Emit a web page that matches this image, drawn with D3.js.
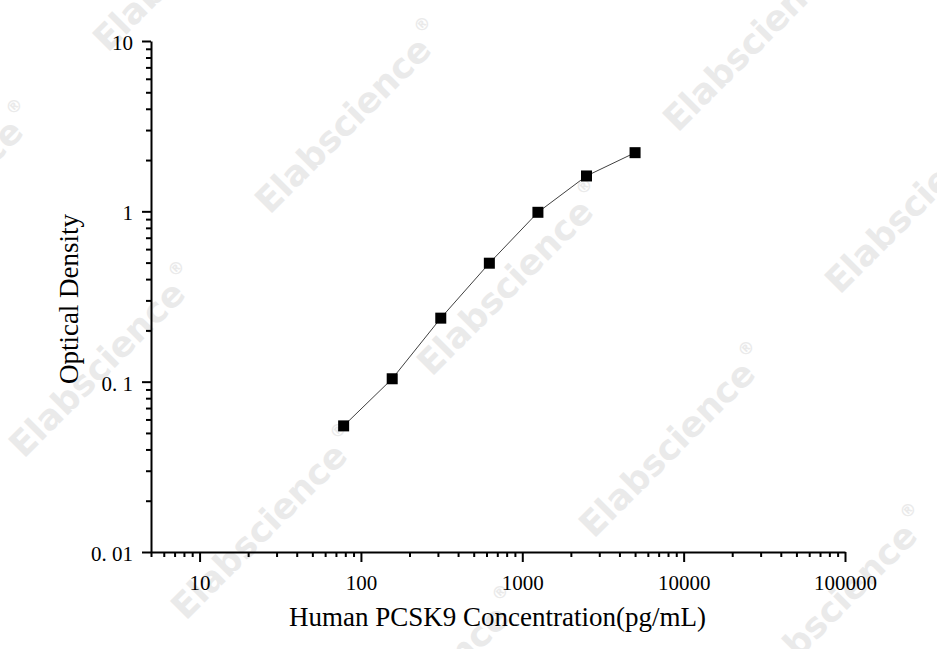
<!DOCTYPE html>
<html>
<head>
<meta charset="utf-8">
<script src="https://cdn.jsdelivr.net/npm/d3@7"></script>
<style>
  body { margin: 0; background: #fff; }
  svg { display: block; }
  .axis path, .axis line { stroke: #000; stroke-width: 2; }
  .axis text { font-family: "Liberation Serif", "Times New Roman", serif; font-size: 21px; fill: #000; }
  .title { font-family: "Liberation Serif", "Times New Roman", serif; font-size: 27px; fill: #000; }
  .wm { font-family: "DejaVu Sans", Verdana, sans-serif; font-weight: bold; font-size: 35px; fill: #eaeaea; }
</style>
</head>
<body>
<svg width="937" height="649"></svg>
<script>
// standard curve points
var concentrations = [78.13, 156.25, 312.5, 625, 1250, 2500, 5000];
var odValues = [0.055, 0.104, 0.236, 0.496, 0.987, 1.613, 2.21];

// axis ticks
var xMajor = [10, 100, 1000, 10000, 100000];
var xTickLabels = ["10", "100", "1000", "10000", "100000"];
var yMajor = [0.01, 0.1, 1, 10];
var yTickLabels = ["0. 01", "0. 1", "1", "10"];

var xTitle = "Human PCSK9 Concentration(pg/mL)";
var yTitle = "Optical Density";

var svg = d3.select("svg"),
    margin = { top: 41, right: 92, bottom: 97, left: 151 },
    width = +svg.attr("width") - margin.left - margin.right,
    height = +svg.attr("height") - margin.top - margin.bottom;

// watermark grid
var wm = svg.append("g");
for (var i = -3; i <= 4; i++) {
    for (var j = -2; j <= 3; j++) {
        var cx = 350 + i * 162 + j * 408,
            cy = 118 + i * 162 - j * 82;
        if (cx < -200 || cx > 1140 || cy < -150 || cy > 800) continue;
        var t = wm.append("text")
            .attr("class", "wm")
            .attr("text-anchor", "middle")
            .attr("dominant-baseline", "central")
            .attr("transform", "translate(" + cx + "," + cy + ") rotate(-45)");
        t.append("tspan").text("Elabscience");
        t.append("tspan").attr("font-size", "17px").attr("dx", "3").attr("dy", "-0.9em").text("®");
    }
}

var x = d3.scaleLog().domain([5, 100000]).range([0, width]);
var y = d3.scaleLog().domain([0.01, 10]).range([height, 0]);

function minors(lo, hi) {
    var out = [];
    for (var p = lo; p < hi; p++) {
        for (var k = 2; k <= 9; k++) {
            out.push(+(k * Math.pow(10, p)).toPrecision(6));
        }
    }
    return out;
}

var g = svg.append("g")
    .attr("transform", "translate(" + margin.left + "," + margin.top + ")");

// minor ticks
g.append("g")
    .attr("class", "axis")
    .attr("transform", "translate(0," + height + ")")
    .call(d3.axisBottom(x).tickValues(minors(0, 5).filter(function(v) { return v >= 5; })).tickSize(5).tickSizeOuter(0).tickFormat(""))
    .select(".domain").remove();

g.append("g")
    .attr("class", "axis")
    .call(d3.axisLeft(y).tickValues(minors(-2, 1)).tickSize(5).tickSizeOuter(0).tickFormat(""))
    .select(".domain").remove();

// major ticks + domain lines
g.append("g")
    .attr("class", "axis")
    .attr("transform", "translate(0," + height + ")")
    .call(d3.axisBottom(x).tickValues(xMajor).tickSize(10).tickSizeOuter(0).tickPadding(13)
        .tickFormat(function(d, i) { return xTickLabels[i]; }));

var yAxis = g.append("g")
    .attr("class", "axis")
    .call(d3.axisLeft(y).tickValues(yMajor).tickSize(9).tickSizeOuter(0).tickPadding(9)
        .tickFormat(function(d, i) { return yTickLabels[i]; }));
yAxis.selectAll("text").attr("dy", "0.4em");

// curve
var pts = concentrations.map(function(c, i) { return [c, odValues[i]]; });

g.append("path")
    .datum(pts)
    .attr("fill", "none")
    .attr("stroke", "#404040")
    .attr("stroke-width", 1)
    .attr("d", d3.line()
        .x(function(d) { return x(d[0]); })
        .y(function(d) { return y(d[1]); }));

var sq = 11;
g.selectAll("rect.pt")
    .data(pts)
    .enter().append("rect")
    .attr("class", "pt")
    .attr("x", function(d) { return x(d[0]) - sq / 2; })
    .attr("y", function(d) { return y(d[1]) - sq / 2; })
    .attr("width", sq)
    .attr("height", sq)
    .attr("fill", "#000");

// titles
svg.append("text")
    .attr("class", "title")
    .attr("text-anchor", "middle")
    .attr("x", 497.5)
    .attr("y", 626)
    .text(xTitle);

svg.append("text")
    .attr("class", "title")
    .attr("text-anchor", "middle")
    .attr("transform", "translate(78,299) rotate(-90)")
    .text(yTitle);
</script>
</body>
</html>
